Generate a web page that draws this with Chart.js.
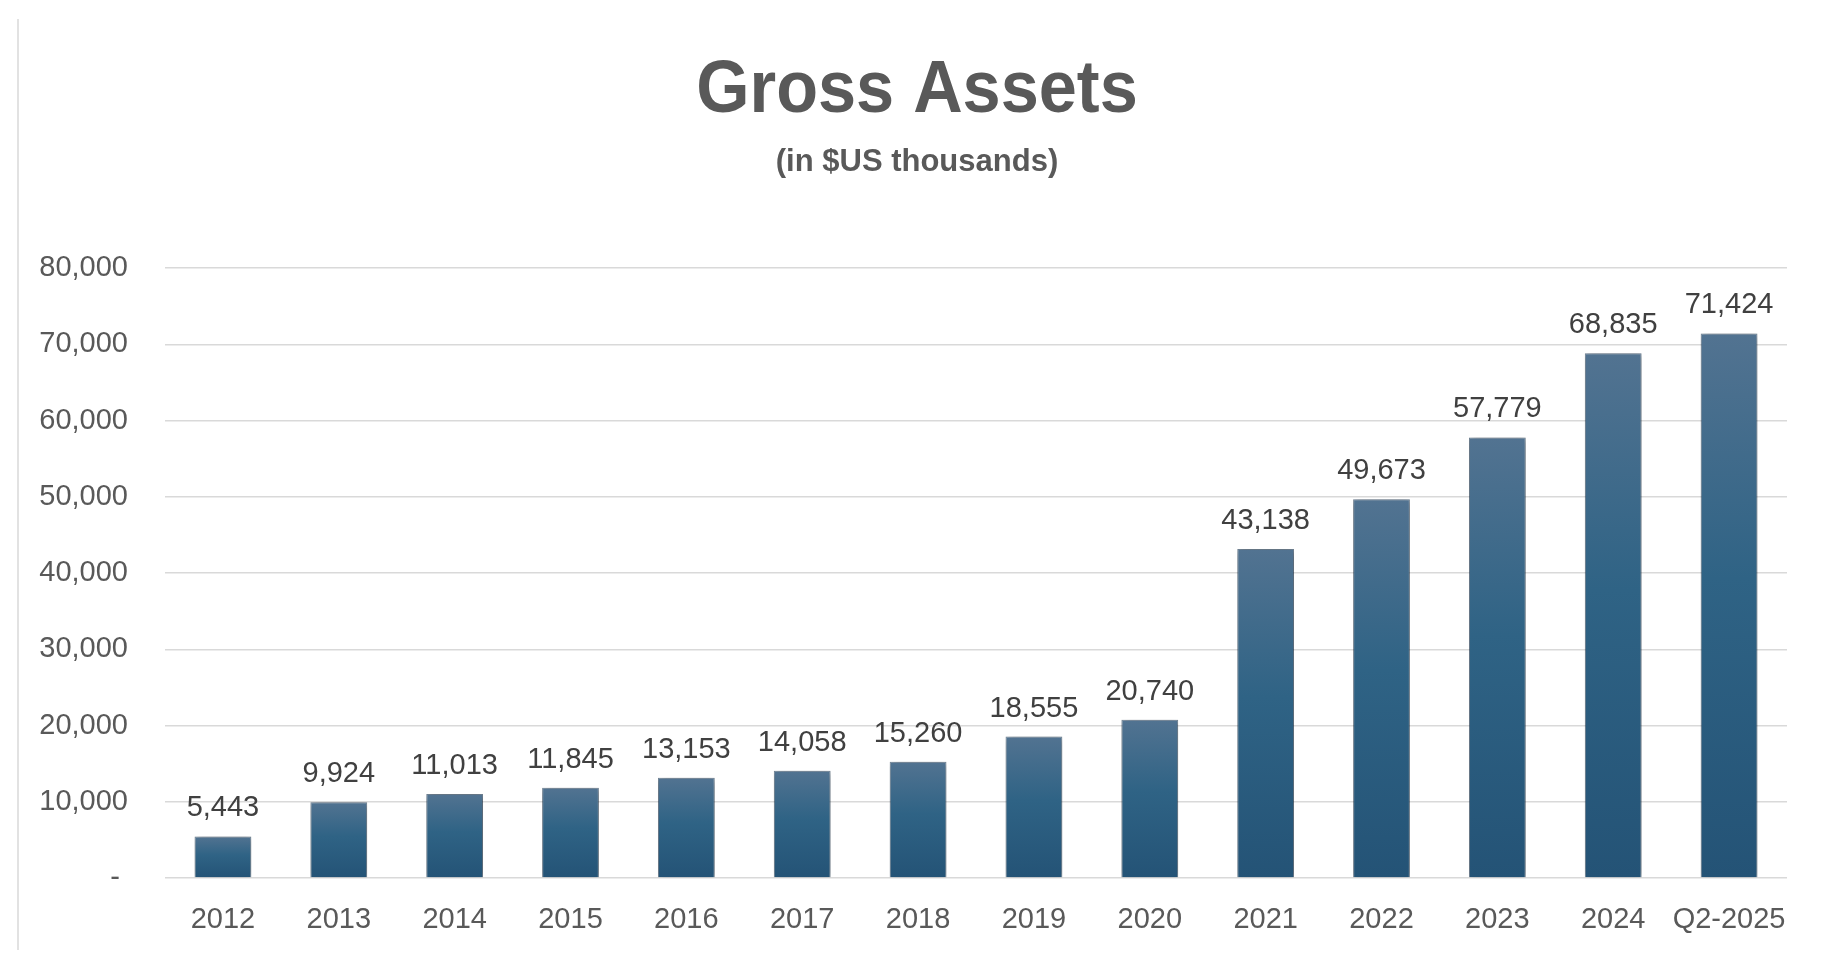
<!DOCTYPE html>
<html>
<head>
<meta charset="utf-8">
<title>Gross Assets</title>
<script src="https://cdn.jsdelivr.net/npm/chart.js@4"></script>
<style>
  html, body { margin: 0; padding: 0; background: #fff; }
  #wrap { width: 1824px; height: 970px; }
</style>
</head>
<body>
<div id="wrap"><canvas id="myChart" width="1824" height="970"></canvas></div>
<script>
// data
const categories = ['2012', '2013', '2014', '2015', '2016', '2017', '2018', '2019', '2020', '2021', '2022', '2023', '2024', 'Q2-2025'];
const grossAssets = [5443, 9924, 11013, 11845, 13153, 14058, 15260, 18555, 20740, 43138, 49673, 57779, 68835, 71424];
const yTicks = [0, 10000, 20000, 30000, 40000, 50000, 60000, 70000, 80000];

const chartTitle = 'Gross Assets';
const chartSubtitle = '(in $US thousands)';

const fmt = (v) => v.toLocaleString('en-US');

// title, subtitle and the thin left border
const headerPlugin = {
  id: 'header',
  afterDraw(chart) {
    const ctx = chart.ctx;
    ctx.save();
    ctx.strokeStyle = '#d9d9d9';
    ctx.lineWidth = 1.5;
    ctx.beginPath();
    ctx.moveTo(18, 19);
    ctx.lineTo(18, 950);
    ctx.stroke();

    ctx.fillStyle = '#595959';
    ctx.textAlign = 'center';
    ctx.textBaseline = 'alphabetic';
    // title font is narrower than Liberation Sans, squeeze it a bit
    ctx.save();
    ctx.translate(917, 112);
    ctx.scale(0.913, 1);
    ctx.font = 'bold 75px "Liberation Sans", Arial, sans-serif';
    ctx.fillText(chartTitle, 0, 0);
    ctx.restore();
    ctx.font = 'bold 31px "Liberation Sans", Arial, sans-serif';
    ctx.fillText(chartSubtitle, 917, 171);
    ctx.restore();
  }
};

// soft shadow behind bars, then value labels on top
const barExtras = {
  id: 'barExtras',
  beforeDatasetsDraw(chart) {
    const ctx = chart.ctx;
    ctx.save();
    ctx.shadowColor = 'rgba(0, 0, 0, 0.4)';
    ctx.shadowBlur = 8;
    ctx.shadowOffsetX = 1;
    ctx.shadowOffsetY = 1;
  },
  afterDatasetsDraw(chart) {
    const ctx = chart.ctx;
    ctx.restore();
    ctx.save();
    ctx.fillStyle = '#404040';
    ctx.font = '29px "Liberation Sans", Arial, sans-serif';
    ctx.textAlign = 'center';
    ctx.textBaseline = 'alphabetic';
    const meta = chart.getDatasetMeta(0);
    meta.data.forEach((bar, i) => {
      ctx.fillText(fmt(grossAssets[i]), bar.x, bar.y - 20);
    });
    ctx.restore();
  }
};

const ctx = document.getElementById('myChart');

new Chart(ctx, {
  type: 'bar',
  data: {
    labels: categories,
    datasets: [{
      label: 'Gross Assets',
      data: grossAssets,
      backgroundColor: (c) => {
        const ys = c.chart.scales.y;
        if (c.type !== 'data' || !ys) return '#2c5f82';
        const top = ys.getPixelForValue(c.raw);
        const base = ys.getPixelForValue(0);
        if (!isFinite(top) || !isFinite(base)) return '#2c5f82';
        const g = c.chart.ctx.createLinearGradient(0, top, 0, base);
        g.addColorStop(0, '#527391');
        g.addColorStop(0.45, '#2f6385');
        g.addColorStop(1, '#245376');
        return g;
      },
      borderColor: 'rgba(30, 62, 92, 0.6)',
      borderWidth: 1,
      barPercentage: 0.49,
      categoryPercentage: 1
    }]
  },
  options: {
    responsive: false,
    devicePixelRatio: 1,
    animation: false,
    layout: {
      padding: { top: 268, right: 37, bottom: 0, left: 0 }
    },
    plugins: {
      legend: { display: false },
      tooltip: { enabled: false }
    },
    scales: {
      x: {
        grid: { display: false },
        border: { display: false },
        ticks: {
          color: '#595959',
          font: { family: '"Liberation Sans", Arial, sans-serif', size: 29 },
          padding: 17,
          maxRotation: 0,
          autoSkip: false
        },
        afterFit: (s) => { s.height = 92; }
      },
      y: {
        min: 0,
        max: 80000,
        grid: { color: '#d9d9d9', lineWidth: 1.5, drawTicks: false },
        border: { display: false },
        afterBuildTicks: (s) => { s.ticks = yTicks.map((v) => ({ value: v })); },
        ticks: {
          color: '#595959',
          font: { family: '"Liberation Sans", Arial, sans-serif', size: 29 },
          padding: 37,
          callback: (v) => (v === 0 ? '- ' : fmt(v))
        },
        afterFit: (s) => { s.width = 165; }
      }
    }
  },
  plugins: [headerPlugin, barExtras]
});
</script>
</body>
</html>
